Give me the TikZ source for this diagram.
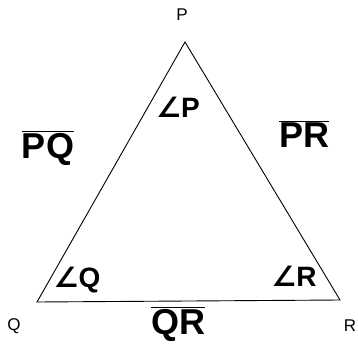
\documentclass[tikz,border=0pt]{standalone}
\usepackage{fontspec}
\setmainfont{Liberation Sans}
\newfontfamily\symfont{DejaVu Sans}
\usetikzlibrary{positioning}

\begin{document}
\begin{tikzpicture}[
    x=1pt, y=-1pt,
    vlabel/.style={font=\fontsize{17}{17}\selectfont, inner sep=0pt},
    hlabel/.style={font=\fontsize{36}{36}\selectfont\bfseries, inner sep=0pt},
    alabel/.style={font=\fontsize{28}{28}\selectfont\bfseries, inner sep=0pt},
    edge/.style={draw, line width=0.9pt, line join=miter},
]
\useasboundingbox (0,0) rectangle (358,350);

% ── Vértices ──────────────────────────
\coordinate (p) at (185,42);
\coordinate (q) at (37,302);
\coordinate (r) at (340,300);
\draw[edge] (p) -- (q) -- (r) -- cycle;

\node[vlabel] (lp) at (182,15)  {P};
\node[vlabel] (lq) at (14,326)  {Q};
\node[vlabel] (lr) at (350,326) {R};

% Ângulos
\node[alabel] (ap) at (178,107) {{\symfont∠}P};
\node[alabel] (aq) at (77,280)  {{\symfont∠}Q};
\node[alabel] (ar) at (294,276) {{\symfont∠}R};

% Lados
\node[hlabel] (spq) at (48,148)  {$\overline{\mbox{PQ}}$};
\node[hlabel] (spr) at (304,134) {$\overline{\mbox{PR}}$};
\node[hlabel] (sqr) at (178,324) {$\overline{\mbox{QR}}$};

\end{tikzpicture}
\end{document}
